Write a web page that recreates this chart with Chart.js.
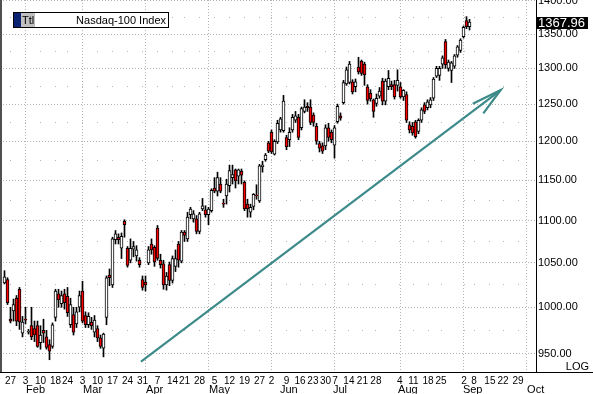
<!DOCTYPE html>
<html>
<head>
<meta charset="utf-8">
<script src="https://cdn.jsdelivr.net/npm/chart.js@4.4.0/dist/chart.umd.min.js"></script>
<style>
  html, body { margin: 0; padding: 0; background: #fff; }
  #wrap { width: 593px; height: 394px; }
</style>
</head>
<body>
<div id="wrap"><canvas id="chart" width="593" height="394"></canvas></div>
<script>
// trading-day index of the first candle (0 = Mon Jan 27)
const firstDay = -2;

const openP = [
  1027,1031,987,996,1010,1020,972,987,973,980,
  977,980,962,975,968,960,958,989,1015,1004,
  1015,1012,981,992,982,1000,1018,991,981,984,
  973,977,967,956,989,1036,1025,1077,1080,1067,
  1099,1067,1053,1066,1058,1053,1031,1028,1050,1072,
  1068,1091,1053,1049,1025,1048,1030,1046,1072,1052,
  1086,1078,1107,1102,1102,1087,1114,1113,1107,1112,
  1140,1136,1145,1121,1130,1143,1153,1163,1155,1161,
  1147,1120,1110,1117,1131,1124,1167,1176,1198,1212,
  1183,1199,1215,1214,1205,1202,1215,1228,1232,1218,
  1240,1247,1246,1235,1220,1197,1194,1194,1218,1212,
  1195,1226,1234,1252,1278,1280,1281,1274,1302,1310,
  1306,1274,1265,1256,1251,1261,1282,1254,1274,1277,
  1277,1276,1274,1260,1263,1222,1220,1226,1213,1228,
  1249,1245,1249,1258,1289,1290,1306,1339,1300,1297,
  1303,1319,1326,1346,1370,1361
];
const highP = [
  1041,1033,1000,1009,1013,1022,990,1000,976,1000,
  985,985,980,987,975,965,983,1020,1020,1018,
  1020,1022,1010,1000,1000,1018,1029,995,994,989,
  991,980,970,972,1035,1043,1080,1088,1084,1085,
  1101,1069,1078,1075,1070,1056,1035,1035,1069,1078,
  1070,1094,1060,1053,1039,1051,1058,1065,1075,1088,
  1088,1110,1116,1112,1106,1110,1127,1118,1116,1139,
  1153,1160,1153,1126,1151,1169,1169,1164,1164,1164,
  1149,1126,1120,1133,1144,1170,1174,1184,1200,1215,
  1202,1228,1232,1262,1208,1218,1236,1240,1236,1246,
  1256,1252,1256,1238,1224,1200,1198,1222,1224,1215,
  1221,1250,1238,1283,1302,1310,1284,1285,1316,1312,
  1309,1277,1270,1257,1264,1273,1286,1285,1297,1282,
  1283,1298,1280,1270,1267,1226,1225,1228,1230,1245,
  1252,1256,1259,1287,1303,1303,1318,1342,1312,1310,
  1320,1333,1343,1362,1376,1372
];
const lowP = [
  1026,1003,983,985,980,976,968,982,971,965,
  963,957,955,962,955,944,956,985,1000,1000,
  998,990,978,970,978,995,983,978,978,976,
  968,963,956,947,981,1024,1022,1072,1072,1055,
  1080,1045,1050,1057,1052,1045,1019,1018,1048,1060,
  1046,1053,1044,1020,1019,1024,1027,1040,1045,1050,
  1075,1075,1102,1098,1084,1084,1112,1104,1095,1110,
  1134,1130,1134,1116,1120,1135,1145,1140,1145,1145,
  1112,1104,1104,1113,1126,1122,1160,1174,1185,1184,
  1182,1197,1212,1212,1189,1193,1212,1225,1202,1215,
  1238,1240,1222,1220,1196,1186,1184,1189,1200,1198,
  1178,1224,1228,1250,1276,1278,1264,1267,1292,1290,
  1276,1250,1254,1232,1247,1258,1249,1249,1270,1270,
  1257,1268,1258,1255,1225,1211,1208,1204,1210,1225,
  1237,1242,1245,1255,1287,1283,1300,1300,1296,1280,
  1300,1316,1323,1344,1358,1356
];
const closeP = [
  1034,1005,985,1003,985,984,984,986,974,968,
  970,958,970,972,957,953,981,1018,1008,1013,
  1005,994,1003,973,995,1013,985,981,990,980,
  986,967,958,971,1033,1033,1078,1084,1077,1081,
  1095,1047,1067,1069,1065,1048,1022,1025,1065,1065,
  1051,1055,1048,1025,1035,1030,1055,1055,1053,1086,
  1082,1104,1114,1108,1087,1108,1118,1107,1114,1137,
  1136,1153,1136,1120,1145,1162,1157,1149,1163,1156,
  1114,1114,1116,1132,1130,1168,1169,1182,1187,1186,
  1200,1224,1230,1254,1193,1212,1232,1234,1205,1244,
  1246,1245,1225,1225,1200,1191,1187,1218,1205,1202,
  1218,1247,1231,1280,1298,1306,1267,1281,1295,1293,
  1291,1255,1257,1240,1258,1268,1254,1282,1286,1274,
  1260,1283,1260,1269,1228,1215,1211,1206,1228,1242,
  1240,1253,1256,1285,1300,1300,1315,1305,1309,1308,
  1318,1331,1341,1360,1361,1367.96
];
const lastPrice = 1367.96;

// y axis
const priceTicks = [950, 1000, 1050, 1100, 1150, 1200, 1250, 1300, 1350, 1400];
const minorPrices = [975, 1025, 1075, 1125, 1175, 1225, 1275, 1325, 1375];
const yMin = 931.4, yMax = 1401.4;

// x axis (positions in trading days)
const dayTickLabels = ["27","3","10","18","24","3","10","17","24","31","7","14","21","28","5","12","19","27","2","9","16","23","30","7","14","21","28","4","11","18","25","2","8","15","22","29"];
const dayTickPos = [0,5,10,15,19,24,29,34,39,44,49,54,58,63,68,73,78,83,87,92,96.5,100.8,105,108.2,112.8,117.3,121.8,129.8,134.3,139.2,143.5,151.2,154.5,159.8,164.2,169.2];
const monthLabels = ["Feb","Mar","Apr","May","Jun","Jul","Aug","Sep","Oct"];
const monthLabelPos = [5.2,24.2,45.2,66.2,89.8,107.5,129.2,150.8,172.2];
const monthLinePos = [5,24,45,66,87,108,130,151,172];

// trend arrow drawn on the chart
const arrowShaft = [{x: 43.5, y: 942}, {x: 163.4, y: 1269.5}];
const arrowHead = [{x: 154.1, y: 1250.4}, {x: 163.4, y: 1269.5}, {x: 157.6, y: 1237.4}];

const FONT = '"Liberation Sans", Arial, sans-serif';
const GRID = "#b4b4b4";
const TEAL = "#3d8a8a";

const wickData = lowP.map((l, i) => ({ x: firstDay + i, y: [l, highP[i]] }));
const bodyData = openP.map((o, i) => ({ x: firstDay + i, y: [o, closeP[i]] }));
const bodyColors = openP.map((o, i) => (closeP[i] >= o ? "#ffffff" : "#ff0000"));

const overlay = {
  id: "overlay",
  beforeDatasetsDraw(chart) {
    const { ctx, chartArea: a, scales: { x, y } } = chart;
    ctx.save();
    ctx.strokeStyle = GRID;
    ctx.lineWidth = 1;
    ctx.setLineDash([1, 2]);
    priceTicks.forEach((v) => {
      const py = Math.floor(y.getPixelForValue(v)) + 0.5;
      ctx.beginPath(); ctx.moveTo(a.left, py); ctx.lineTo(a.right, py); ctx.stroke();
    });
    monthLinePos.forEach((d) => {
      const px = Math.floor(x.getPixelForValue(d)) + 0.5;
      ctx.beginPath(); ctx.moveTo(px, a.top); ctx.lineTo(px, a.bottom); ctx.stroke();
    });
    ctx.setLineDash([]);
    ctx.fillStyle = GRID;
    minorPrices.forEach((v) => {
      const py = Math.floor(y.getPixelForValue(v));
      dayTickPos.forEach((d) => ctx.fillRect(Math.floor(x.getPixelForValue(d)), py, 1, 1));
    });
    ctx.fillStyle = "#505050";
    ctx.fillRect(0, a.top, 2, a.bottom - a.top);
    ctx.restore();
  },
  afterDraw(chart) {
    const { ctx, chartArea: a, scales: { x, y } } = chart;
    ctx.save();
    ctx.fillStyle = "#000";
    ctx.fillRect(0, a.bottom, chart.width, 1);

    // date labels
    ctx.font = "10px " + FONT;
    ctx.textBaseline = "alphabetic";
    ctx.textAlign = "center";
    dayTickLabels.forEach((t, i) => ctx.fillText(t, x.getPixelForValue(dayTickPos[i]), 384));
    ctx.font = "11px " + FONT;
    ctx.textAlign = "left";
    monthLabels.forEach((t, i) => ctx.fillText(t, x.getPixelForValue(monthLabelPos[i]), 393));

    // last price tag
    const ly = Math.round(y.getPixelForValue(lastPrice));
    ctx.fillRect(a.right + 1, ly - 5, 51, 12);
    ctx.fillStyle = "#fff";
    ctx.font = "13px " + FONT;
    ctx.textBaseline = "middle";
    ctx.fillText(lastPrice.toFixed(2), a.right + 2, ly + 1);

    ctx.fillStyle = "#000";
    ctx.font = "11px " + FONT;
    ctx.textAlign = "right";
    ctx.textBaseline = "alphabetic";
    ctx.fillText("LOG", 589, 370);

    // title box
    ctx.fillStyle = "#fff";
    ctx.fillRect(13, 12, 156, 16);
    ctx.fillStyle = "#0a2070";
    ctx.fillRect(14, 13, 7, 14);
    ctx.fillStyle = "#c0c0c0";
    ctx.fillRect(21, 13, 14, 14);
    ctx.strokeStyle = "#000";
    ctx.lineWidth = 1;
    ctx.strokeRect(13.5, 12.5, 155, 15);
    ctx.fillStyle = "#000";
    ctx.textAlign = "left";
    ctx.fillText("Ttl", 22, 24);
    ctx.textAlign = "right";
    ctx.fillText("Nasdaq-100 Index", 166, 24);
    ctx.restore();
  }
};

new Chart(document.getElementById("chart"), {
  type: "bar",
  data: {
    datasets: [
      {
        type: "line", data: arrowShaft, borderColor: TEAL, borderWidth: 2.2,
        pointRadius: 0, fill: false, tension: 0, order: 1
      },
      {
        type: "line", data: arrowHead, borderColor: TEAL, borderWidth: 2.2,
        pointRadius: 0, fill: false, tension: 0, order: 1
      },
      {
        data: bodyData, backgroundColor: bodyColors, borderColor: "#000",
        borderWidth: 1, borderSkipped: false, barThickness: 3, grouped: false, order: 2
      },
      {
        data: wickData, backgroundColor: "#000", borderWidth: 0,
        barThickness: 1, grouped: false, order: 3
      }
    ]
  },
  options: {
    responsive: false,
    animation: false,
    events: [],
    layout: { autoPadding: false, padding: { left: 0, right: 0, top: 0, bottom: 22 } },
    plugins: { legend: { display: false }, tooltip: { enabled: false } },
    scales: {
      x: { type: "linear", display: false, offset: false, min: -3.5, max: -3.5 + 536 / 3 },
      y: {
        type: "logarithmic", position: "right", min: yMin, max: yMax,
        afterBuildTicks: (s) => { s.ticks = priceTicks.map((v) => ({ value: v })); },
        afterFit: (s) => { s.width = 57; s.paddingTop = 0; s.paddingBottom = 0; },
        grid: { display: false, drawTicks: false },
        border: { display: true, color: "#000", width: 1 },
        ticks: {
          padding: 2, color: "#000", autoSkip: false,
          font: { size: 11, family: FONT },
          callback: (v) => Number(v).toFixed(2)
        }
      }
    }
  },
  plugins: [overlay]
});
</script>
</body>
</html>
